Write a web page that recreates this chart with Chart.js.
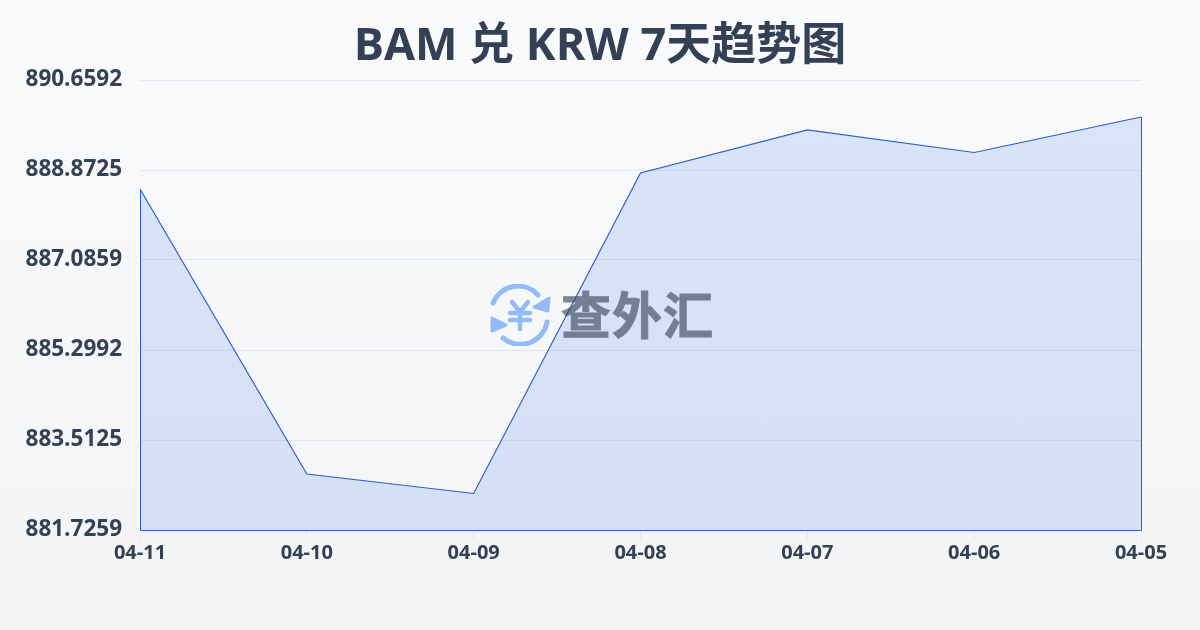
<!DOCTYPE html>
<html lang="zh-CN">
<head>
<meta charset="utf-8">
<title>BAM 兑 KRW 7天趋势图</title>
<script src="https://cdn.jsdelivr.net/npm/chart.js@4/dist/chart.umd.min.js"></script>
<style>
    html, body { margin: 0; padding: 0; }
    body {
        width: 1200px;
        height: 630px;
        overflow: hidden;
        position: relative;
        background: linear-gradient(180deg, #f9fafc 0%, #f2f4f6 100%);
    }
    #chart { position: absolute; left: 0; top: 0; }
    h1 {
        position: absolute;
        left: 0;
        top: 13px;
        width: 1200px;
        margin: 0;
        text-align: center;
        font: 700 45px/60px "Open Sans", "Noto Sans CJK SC", sans-serif;
        color: #344054;
    }
    .watermark {
        position: absolute;
        left: 489px;
        top: 284px;
        display: flex;
        align-items: center;
        pointer-events: none;
    }
    .watermark span {
        margin-left: 10px;
        font: 700 50px/62px "Noto Sans CJK SC", sans-serif;
        color: #374155;
        -webkit-text-stroke: 1px #374155;
        opacity: 0.62;
        letter-spacing: 1px;
        position: relative;
        top: -3px;
    }
</style>
</head>
<body>
<canvas id="chart" width="1200" height="630"></canvas>
<h1>BAM 兑 KRW 7天趋势图</h1>
<div class="watermark">
    <svg width="62" height="62" viewBox="0 0 62 62" fill="none" stroke="#93bbf8" stroke-width="5" stroke-linecap="round" stroke-linejoin="round">
        <path d="M4 19 A27 27 0 0 1 49 11"/>
        <path d="M58 38 A27 27 0 0 1 14 54"/>
        <path d="M60 14 L59 27 L45 23 Z" fill="#93bbf8" stroke-width="3"/>
        <path d="M3 34 L3 47 L17 41 Z" fill="#93bbf8" stroke-width="3"/>
        <path d="M23 18 L31 28 L39 18 M21 29 H41 M21 36 H41 M31 28 V45" stroke-width="4.5"/>
    </svg>
    <span>查外汇</span>
</div>
<script>
// Chart data
const dates = ['04-11', '04-10', '04-09', '04-08', '04-07', '04-06', '04-05'];
const rates = [888.4954, 882.838, 882.451, 888.813, 889.667, 889.220, 889.925];
const yTicks = [881.7259, 883.5125, 885.2992, 887.0859, 888.8725, 890.6592];

const LINE_COLOR = '#2b5fc9';
const TEXT_COLOR = '#344054';
const LABEL_FONT = '"Open Sans", sans-serif';

// Closes the area outline down the sides and along the bottom
const closeOutline = {
    id: 'closeOutline',
    afterDatasetsDraw(chart) {
        const points = chart.getDatasetMeta(0).data;
        const first = points[0];
        const last = points[points.length - 1];
        const base = chart.scales.y.getPixelForValue(yTicks[0]) + 0.5;
        const ctx = chart.ctx;
        ctx.save();
        ctx.strokeStyle = LINE_COLOR;
        ctx.lineWidth = 1;
        ctx.beginPath();
        ctx.moveTo(last.x + 0.5, last.y);
        ctx.lineTo(last.x + 0.5, base);
        ctx.lineTo(first.x + 0.5, base);
        ctx.lineTo(first.x + 0.5, first.y);
        ctx.stroke();
        ctx.restore();
    }
};

new Chart(document.getElementById('chart'), {
    type: 'line',
    data: {
        labels: dates,
        datasets: [{
            data: rates,
            borderColor: LINE_COLOR,
            backgroundColor: 'rgba(37, 99, 235, 0.14)',
            borderWidth: 1.2,
            fill: 'origin',
            tension: 0,
            pointRadius: 0
        }]
    },
    options: {
        responsive: false,
        animation: false,
        layout: { padding: { left: 0, right: 59, top: 80, bottom: 0 } },
        plugins: {
            legend: { display: false },
            tooltip: { enabled: false }
        },
        scales: {
            x: {
                offset: false,
                afterFit(axis) {
                    axis.height = 100;
                },
                grid: { drawOnChartArea: false, drawTicks: true, tickLength: 10, color: '#e5e7eb' },
                border: { display: false },
                ticks: {
                    color: TEXT_COLOR,
                    padding: 1,
                    maxRotation: 0,
                    font: { family: LABEL_FONT, size: 20, weight: '700' }
                }
            },
            y: {
                min: yTicks[0],
                max: yTicks[yTicks.length - 1],
                afterBuildTicks(axis) {
                    axis.ticks = yTicks.map(value => ({ value }));
                },
                afterFit(axis) {
                    axis.width = 140;
                },
                grid: { drawTicks: false, color: 'rgba(200, 205, 220, 0.4)' },
                border: { display: false },
                ticks: {
                    color: TEXT_COLOR,
                    padding: 18,
                    callback: value => value.toFixed(4),
                    font: { family: LABEL_FONT, size: 22.5, weight: '700' }
                }
            }
        }
    },
    plugins: [closeOutline]
});
</script>
</body>
</html>
